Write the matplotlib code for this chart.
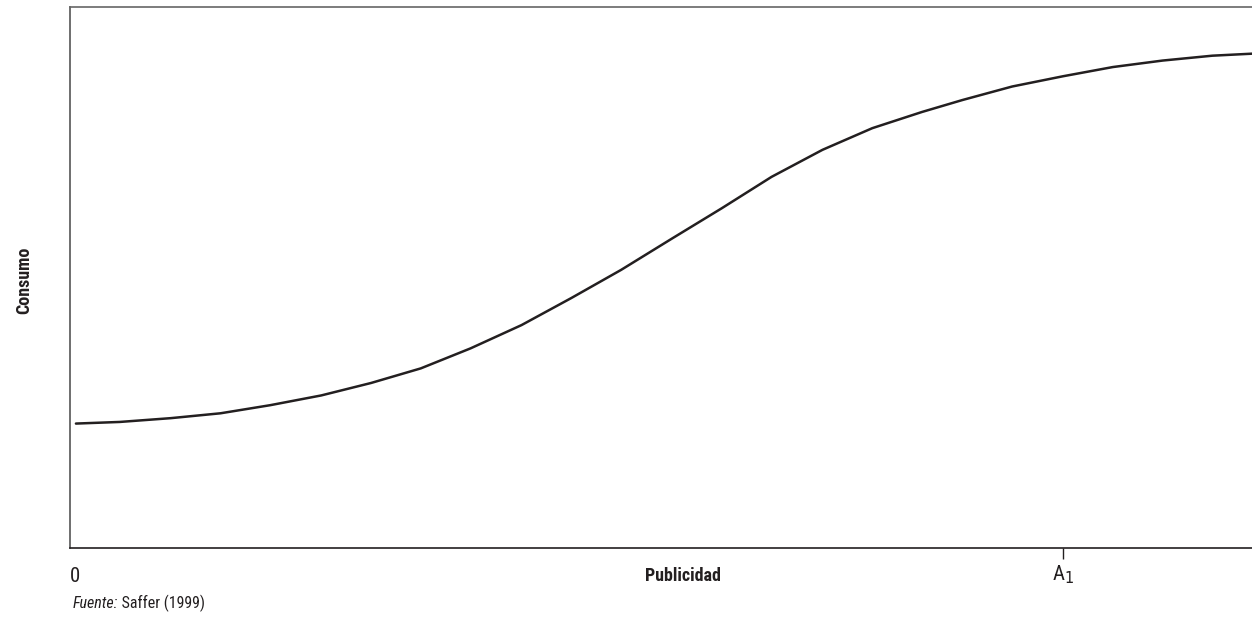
import matplotlib
matplotlib.use('Agg')
import matplotlib.pyplot as plt
from matplotlib import font_manager

# curve (arbitrary units: x 0..10, y 0..10)
publicidad = [0.05, 0.42, 0.85, 1.27, 1.69, 2.12, 2.54, 2.96, 3.38, 3.81, 4.23, 4.65, 5.08,
              5.50, 5.92, 6.35, 6.77, 7.19, 7.53, 7.95, 8.38, 8.80, 9.22, 9.64, 10.0]
consumo = [2.30, 2.33, 2.40, 2.49, 2.64, 2.82, 3.05, 3.32, 3.69, 4.12, 4.62, 5.14, 5.72,
           6.28, 6.86, 7.36, 7.76, 8.06, 8.28, 8.53, 8.72, 8.89, 9.01, 9.10, 9.14]
a1 = 8.38

# condensed face close to Helvetica Condensed, whichever is installed
names = {f.name for f in font_manager.fontManager.ttflist}
for cand in ['Roboto Condensed', 'Liberation Sans Narrow', 'Archivo Narrow',
             'Asap Condensed', 'Barlow Semi Condensed', 'Liberation Sans']:
    if cand in names:
        cond = cand
        break
plt.rcParams['font.family'] = [cond, 'DejaVu Sans']

ink = '#231f20'
fig = plt.figure(figsize=(12.52, 6.19), dpi=100)
ax = fig.add_axes([70 / 1252, 71 / 619, 1 - 70 / 1252 + 0.01, 541 / 619])

ax.plot(publicidad, consumo, color=ink, lw=1.8, solid_capstyle='round')

ax.set_xlim(0, 10.08)
ax.set_ylim(0, 10)
ax.spines['right'].set_visible(False)
ax.spines['top'].set_color('#666666')
ax.spines['left'].set_color('#555555')
ax.spines['bottom'].set_color(ink)
for s in ax.spines.values():
    s.set_linewidth(1.2)

ax.set_yticks([])
ax.set_xticks([a1])
ax.set_xticklabels(['A$_1$'], fontsize=15, color=ink)
ax.tick_params(axis='x', length=8, width=1, color=ink, pad=3)

ax.text(0, -0.36, '0', ha='left', va='top', fontsize=15, color=ink)
ax.text(5.17, -0.36, 'Publicidad', ha='center', va='top', fontsize=13,
        fontweight='bold', color=ink)
fig.text(24 / 1252, 1 - 280 / 619, 'Consumo', rotation=90, ha='center', va='center',
         fontsize=13, fontweight='bold', color=ink)

src = fig.text(73 / 1252, 1 - 603 / 619, 'Fuente:', style='italic', ha='left', va='center',
               fontsize=11.5, color=ink)
ax.annotate(' Saffer (1999)', xy=(1, 0.5), xycoords=src, ha='left', va='center',
            fontsize=11.5, color=ink)

fig.savefig('out.png', dpi=100)
